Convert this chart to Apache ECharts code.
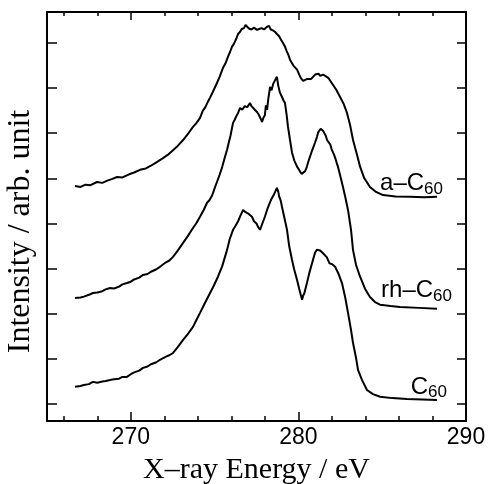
<!DOCTYPE html>
<html>
<head>
<meta charset="utf-8">
<script src="https://cdn.jsdelivr.net/npm/echarts@6/dist/echarts.min.js"></script>
<style>
	html, body { margin: 0; padding: 0; background: #fff; }
	#main { width: 488px; height: 484px; }
</style>
</head>
<body>
<div id="main"></div>
<script>
	// [energy eV, intensity], a-C60 (top trace)
	const aC60 = [
		[266.67, 5.83], [267.0, 5.81], [267.3, 5.86], [267.6, 5.85], [267.98, 5.92], [268.3, 5.90], [268.6, 5.95], [268.9, 5.99],
		[269.18, 6.03], [269.5, 6.02], [269.9, 6.09], [270.2, 6.13], [270.55, 6.19], [270.9, 6.22], [271.2, 6.28], [271.55, 6.36],
		[271.92, 6.45], [272.2, 6.52], [272.5, 6.62], [272.8, 6.72], [273.12, 6.85], [273.4, 6.98], [273.71, 7.14], [273.9, 7.22],
		[274.13, 7.34], [274.3, 7.50], [274.45, 7.58], [274.6, 7.70], [274.73, 7.79], [274.9, 7.92], [275.1, 8.08], [275.3, 8.25],
		[275.5, 8.45], [275.65, 8.55], [275.8, 8.70], [275.92, 8.80], [276.04, 8.92], [276.15, 8.98], [276.3, 9.10], [276.4, 9.20],
		[276.52, 9.25], [276.62, 9.31], [276.75, 9.33], [276.85, 9.40], [276.93, 9.36], [277.05, 9.32], [277.2, 9.30], [277.35, 9.34],
		[277.53, 9.29], [277.65, 9.31], [277.8, 9.33], [277.95, 9.30], [278.13, 9.36], [278.25, 9.38], [278.35, 9.30], [278.48, 9.28],
		[278.6, 9.25], [278.72, 9.20], [278.85, 9.15], [278.95, 9.08], [279.08, 9.00], [279.2, 8.92], [279.3, 8.82], [279.4, 8.74],
		[279.5, 8.63], [279.7, 8.50], [279.92, 8.41], [280.05, 8.30], [280.15, 8.22], [280.28, 8.16], [280.39, 8.14], [280.5, 8.20],
		[280.6, 8.22], [280.75, 8.20], [280.87, 8.25], [281.0, 8.30], [281.11, 8.28], [281.2, 8.32], [281.3, 8.27], [281.4, 8.31],
		[281.47, 8.30], [281.6, 8.27], [281.71, 8.25], [281.8, 8.22], [281.9, 8.18], [282.07, 8.07], [282.25, 7.97], [282.48, 7.81],
		[282.7, 7.65], [282.9, 7.45], [283.08, 7.19], [283.26, 6.85], [283.5, 6.52], [283.68, 6.26], [283.92, 6.01], [284.27, 5.81],
		[284.63, 5.70], [285.05, 5.63], [285.8, 5.60], [286.66, 5.59], [287.5, 5.58], [288.27, 5.59]
	];

	// rh-C60 (middle trace)
	const rhC60 = [
		[266.67, 3.35], [267.0, 3.36], [267.2, 3.38], [267.5, 3.42], [267.74, 3.46], [268.0, 3.47], [268.3, 3.50], [268.5, 3.54],
		[268.76, 3.57], [269.0, 3.56], [269.3, 3.60], [269.5, 3.65], [269.77, 3.68], [270.0, 3.71], [270.2, 3.76], [270.5, 3.80],
		[270.73, 3.86], [271.0, 3.88], [271.2, 3.93], [271.5, 3.98], [271.74, 4.04], [272.1, 4.14], [272.3, 4.18], [272.52, 4.26],
		[272.8, 4.40], [273.12, 4.57], [273.4, 4.72], [273.71, 4.90], [273.9, 5.00], [274.13, 5.15], [274.35, 5.30], [274.55, 5.46],
		[274.7, 5.52], [274.85, 5.62], [275.0, 5.78], [275.14, 5.92], [275.3, 6.08], [275.45, 6.25], [275.6, 6.45], [275.74, 6.63],
		[275.85, 6.80], [275.95, 6.95], [276.03, 7.10], [276.1, 7.23], [276.2, 7.30], [276.3, 7.38], [276.4, 7.45], [276.52, 7.56],
		[276.65, 7.52], [276.8, 7.60], [276.95, 7.58], [277.11, 7.67], [277.2, 7.60], [277.3, 7.58], [277.4, 7.52], [277.53, 7.47],
		[277.62, 7.42], [277.7, 7.38], [277.78, 7.30], [277.83, 7.25], [277.92, 7.35], [278.0, 7.40], [278.06, 7.62], [278.13, 7.52],
		[278.2, 7.75], [278.31, 8.03], [278.4, 7.95], [278.5, 8.10], [278.6, 8.12], [278.72, 8.25], [278.8, 8.05], [278.9, 7.90],
		[279.0, 7.82], [279.05, 7.78], [279.12, 7.72], [279.2, 7.67], [279.3, 7.40], [279.38, 7.14], [279.5, 6.85], [279.62, 6.57],
		[279.75, 6.40], [279.92, 6.26], [280.02, 6.20], [280.1, 6.15], [280.2, 6.10], [280.28, 6.08], [280.4, 6.16], [280.5, 6.25],
		[280.6, 6.38], [280.69, 6.48], [280.8, 6.60], [280.9, 6.70], [281.0, 6.80], [281.11, 6.92], [281.18, 7.02], [281.25, 7.05],
		[281.33, 7.10], [281.41, 7.14], [281.48, 7.05], [281.55, 7.00], [281.63, 6.95], [281.71, 6.85], [281.8, 6.82], [281.9, 6.75],
		[281.98, 6.65], [282.07, 6.57], [282.13, 6.52], [282.2, 6.45], [282.28, 6.35], [282.36, 6.26], [282.5, 6.05], [282.66, 5.81],
		[282.8, 5.58], [282.96, 5.30], [283.14, 4.86], [283.26, 4.41], [283.44, 4.08], [283.68, 3.82], [283.98, 3.55], [284.27, 3.37],
		[284.57, 3.26], [284.87, 3.20], [285.5, 3.17], [286.06, 3.15], [287.2, 3.13], [288.27, 3.11]
	];

	// C60 (bottom trace)
	const c60 = [
		[266.67, 1.38], [267.0, 1.40], [267.2, 1.42], [267.5, 1.44], [267.74, 1.49], [268.0, 1.47], [268.3, 1.50], [268.5, 1.51],
		[268.76, 1.53], [269.0, 1.55], [269.3, 1.56], [269.5, 1.60], [269.77, 1.60], [270.0, 1.66], [270.2, 1.70], [270.5, 1.74],
		[270.73, 1.80], [271.0, 1.83], [271.2, 1.88], [271.5, 1.92], [271.74, 1.98], [272.1, 2.05], [272.3, 2.08], [272.52, 2.13],
		[272.8, 2.26], [273.12, 2.42], [273.4, 2.55], [273.71, 2.71], [273.9, 2.85], [274.13, 3.02], [274.4, 3.22], [274.73, 3.46],
		[274.95, 3.62], [275.2, 3.82], [275.45, 4.05], [275.74, 4.41], [275.9, 4.65], [276.1, 4.86], [276.25, 4.95], [276.4, 5.05],
		[276.55, 5.18], [276.7, 5.30], [276.85, 5.25], [277.0, 5.22], [277.1, 5.18], [277.23, 5.15], [277.35, 5.05], [277.5, 5.00],
		[277.6, 4.92], [277.71, 4.86], [277.8, 4.95], [277.9, 5.05], [278.0, 5.15], [278.13, 5.30], [278.25, 5.42], [278.4, 5.55],
		[278.55, 5.65], [278.72, 5.79], [278.8, 5.70], [278.85, 5.60], [278.95, 5.50], [279.02, 5.37], [279.15, 5.15], [279.32, 4.86],
		[279.45, 4.50], [279.62, 4.19], [279.75, 3.98], [279.92, 3.75], [280.05, 3.55], [280.12, 3.45], [280.22, 3.31], [280.28, 3.40],
		[280.35, 3.45], [280.51, 3.68], [280.65, 3.90], [280.8, 4.10], [280.99, 4.35], [281.1, 4.42], [281.2, 4.45], [281.3, 4.40],
		[281.41, 4.37], [281.5, 4.33], [281.6, 4.30], [281.7, 4.25], [281.77, 4.19], [281.85, 4.12], [281.93, 4.15], [282.0, 4.10],
		[282.1, 4.07], [282.19, 4.04], [282.4, 3.88], [282.6, 3.68], [282.8, 3.35], [282.96, 3.02], [283.14, 2.64], [283.26, 2.35],
		[283.44, 2.02], [283.56, 1.75], [283.8, 1.53], [284.09, 1.31], [284.45, 1.22], [284.87, 1.16], [285.6, 1.13], [286.48, 1.11],
		[287.4, 1.10], [288.27, 1.09]
	];

	const seriesNames = ['a–C', 'rh–C', 'C'];
	const xTickLabels = [270, 280, 290];

	const chart = echarts.init(document.getElementById('main'));

	// frame of the plot: x 265..290 eV, intensity 0.623..9.687 (ticks at whole units)
	const frame = { left: 47, right: 22, top: 12, bottom: 63, outerBoundsMode: 'none', containLabel: false };
	const pxPerEv = (488 - frame.left - frame.right) / 25;
	const pxPerUnit = (484 - frame.top - frame.bottom) / (9.687 - 0.623);

	const labelFont = 'Liberation Sans, Arial, sans-serif';
	const titleFont = 'Liberation Serif, Times New Roman, serif';
	const tickStyle = { color: '#000', width: 1.5 };

	function hiddenAxis (gridIndex, min, max) {
		return { gridIndex, type: 'value', show: false, min, max };
	}

	function tickAxis (gridIndex, position, min, max, interval, length) {
		return {
			gridIndex, type: 'value', position, min, max, interval,
			axisLine: { show: false },
			axisTick: { inside: true, length, lineStyle: tickStyle },
			axisLabel: { show: false },
			splitLine: { show: false }
		};
	}

	function traceLabel (name, dx, dy) {
		return {
			show: true,
			formatter: `{m|${name}}{s|60}`,
			align: 'right',
			verticalAlign: 'bottom',
			offset: [dx, dy],
			rich: {
				m: { fontFamily: labelFont, fontSize: 24, lineHeight: 28, color: '#000' },
				s: { fontFamily: labelFont, fontSize: 17, lineHeight: 15, verticalAlign: 'bottom', color: '#000' }
			}
		};
	}

	const majorX = xTickLabels[0];
	const option = {
		animation: false,
		grid: [
			// 0: data + frame
			Object.assign({}, frame),
			// 1: minor x ticks (every 2 eV from 266)
			Object.assign({}, frame, { left: frame.left + pxPerEv }),
			// 2: major x ticks + labels (every 10 eV from 270)
			Object.assign({}, frame, { left: frame.left + pxPerEv * (majorX - 265) }),
			// 3: y ticks (1..9)
			Object.assign({}, frame, {
				top: frame.top + (9.687 - 9) * pxPerUnit,
				bottom: frame.bottom + (1 - 0.623) * pxPerUnit
			})
		],
		xAxis: [
			{
				gridIndex: 0, type: 'value', position: 'bottom', min: 265, max: 290,
				axisLine: { show: true, lineStyle: { color: '#000', width: 2 } },
				axisTick: { show: false }, axisLabel: { show: false }, splitLine: { show: false },
				name: 'X–ray Energy / eV',
				nameLocation: 'middle',
				nameGap: 34,
				nameTextStyle: { fontFamily: titleFont, fontSize: 30, color: '#000' }
			},
			{
				gridIndex: 0, type: 'value', position: 'top', min: 265, max: 290,
				axisLine: { show: true, lineStyle: { color: '#000', width: 2 } },
				axisTick: { show: false }, axisLabel: { show: false }, splitLine: { show: false }
			},
			tickAxis(1, 'bottom', 266, 290, 2, 5),
			tickAxis(1, 'top', 266, 290, 2, 4),
			Object.assign(tickAxis(2, 'bottom', 270, 290, 10, 9), {
				axisLabel: {
					margin: 5,
					fontFamily: labelFont,
					fontSize: 23,
					color: '#000',
					formatter: v => xTickLabels.indexOf(v) >= 0 ? String(v) : ''
				}
			}),
			tickAxis(2, 'top', 270, 290, 10, 8),
			hiddenAxis(3, 0, 1)
		],
		yAxis: [
			{
				gridIndex: 0, type: 'value', position: 'left', min: 0.623, max: 9.687,
				axisLine: { show: true, lineStyle: { color: '#000', width: 2 } },
				axisTick: { show: false }, axisLabel: { show: false }, splitLine: { show: false },
				name: 'Intensity / arb. unit',
				nameLocation: 'middle',
				nameGap: 10,
				nameTextStyle: { fontFamily: titleFont, fontSize: 32, color: '#000', padding: [0, 30, 0, 0] }
			},
			{
				gridIndex: 0, type: 'value', position: 'right', min: 0.623, max: 9.687,
				axisLine: { show: true, lineStyle: { color: '#000', width: 2 } },
				axisTick: { show: false }, axisLabel: { show: false }, splitLine: { show: false }
			},
			hiddenAxis(1, 0, 1),
			hiddenAxis(2, 0, 1),
			tickAxis(3, 'left', 1, 9, 1, 10),
			tickAxis(3, 'right', 1, 9, 1, 9)
		],
		series: [
			{
				name: seriesNames[0], type: 'line', xAxisIndex: 0, yAxisIndex: 0,
				data: aC60, showSymbol: false,
				lineStyle: { color: '#000', width: 2 },
				endLabel: traceLabel(seriesNames[0], -2, 1)
			},
			{
				name: seriesNames[1], type: 'line', xAxisIndex: 0, yAxisIndex: 0,
				data: rhC60, showSymbol: false,
				lineStyle: { color: '#000', width: 2 },
				endLabel: traceLabel(seriesNames[1], 7, -4)
			},
			{
				name: seriesNames[2], type: 'line', xAxisIndex: 0, yAxisIndex: 0,
				data: c60, showSymbol: false,
				lineStyle: { color: '#000', width: 2 },
				endLabel: traceLabel(seriesNames[2], 2, 1)
			}
		]
	};

	chart.setOption(option);
</script>
</body>
</html>
